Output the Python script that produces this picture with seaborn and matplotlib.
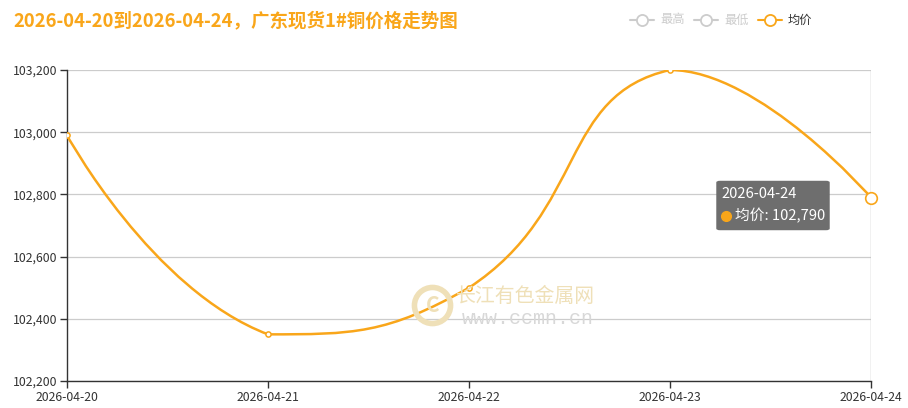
import math
import numpy as np
import pandas as pd
import seaborn as sns
import matplotlib.pyplot as plt
from matplotlib.path import Path
from matplotlib.patches import PathPatch, FancyBboxPatch
from matplotlib.lines import Line2D
from matplotlib.ticker import FuncFormatter

dates = ["2026-04-20", "2026-04-21", "2026-04-22", "2026-04-23", "2026-04-24"]
avg_price = [102990, 102350, 102500, 103200, 102790]
legend_names = ["最高", "最低", "均价"]
title = "2026-04-20到2026-04-24，广东现货1#铜价格走势图"
y_ticks = [102200, 102400, 102600, 102800, 103000, 103200]

ORANGE = "#F9A61A"
W, H = 908, 408

sns.set_theme(style="white")
plt.rcParams["font.family"] = ["Noto Sans CJK SC", "DejaVu Sans"]


def fx(x):
    return x / W


def fy(y):
    return 1 - y / H


def smooth_path(xs, ys, smooth=0.5):
    # bezier smoothing like echarts 4, control points kept inside the points' bbox
    n = len(xs)
    xmin, xmax, ymin, ymax = min(xs), max(xs), min(ys), max(ys)
    cps = [(xs[0], ys[0])]
    for i in range(1, n - 1):
        x, y = xs[i], ys[i]
        vx = (xs[i + 1] - xs[i - 1]) * smooth
        vy = (ys[i + 1] - ys[i - 1]) * smooth
        d0 = math.hypot(x - xs[i - 1], y - ys[i - 1])
        d1 = math.hypot(xs[i + 1] - x, ys[i + 1] - y)
        d0, d1 = d0 / (d0 + d1), d1 / (d0 + d1)
        for k in (-d0, d1):
            cx = min(max(x + vx * k, xmin), xmax)
            cy = min(max(y + vy * k, ymin), ymax)
            cps.append((cx, cy))
    cps.append((xs[-1], ys[-1]))
    verts = [(xs[0], ys[0])]
    codes = [Path.MOVETO]
    for i in range(n - 1):
        verts += [cps[2 * i], cps[2 * i + 1], (xs[i + 1], ys[i + 1])]
        codes += [Path.CURVE4] * 3
    return verts, codes


df = pd.DataFrame({"idx": np.arange(len(dates)), "date": dates, "price": avg_price})

fig = plt.figure(figsize=(W / 100, H / 100), dpi=100)
ax = fig.add_axes([fx(67), fy(381), fx(871) - fx(67), fy(70) - fy(381)])

# pixel scale of the plot area, used for the smoothing
sx = (871 - 67) / (len(dates) - 1)
sy = (381 - 70) / (y_ticks[-1] - y_ticks[0])
xs = [i * sx for i in df["idx"]]
ys = [(p - y_ticks[0]) * sy for p in df["price"]]
verts, codes = smooth_path(xs, ys)
verts = [(vx / sx, vy / sy + y_ticks[0]) for vx, vy in verts]
ax.add_patch(PathPatch(Path(verts, codes), facecolor="none", edgecolor=ORANGE,
                       lw=1.8, zorder=3))

sns.scatterplot(data=df.iloc[:-1], x="idx", y="price", ax=ax, s=14,
                facecolor="white", edgecolor=ORANGE, linewidth=1.1, zorder=4)
sns.scatterplot(data=df.iloc[-1:], x="idx", y="price", ax=ax, s=70,
                facecolor="white", edgecolor=ORANGE, linewidth=1.2, zorder=5,
                clip_on=False)

ax.axvline(len(dates) - 1, color="#bbbbbb", lw=1, zorder=2)

ax.set_xlim(0, len(dates) - 1)
ax.set_ylim(y_ticks[0], y_ticks[-1])
ax.set_xticks(df["idx"])
ax.set_xticklabels(dates)
ax.set_yticks(y_ticks)
ax.yaxis.set_major_formatter(FuncFormatter(lambda v, p: f"{int(v):,}"))
ax.set_xlabel("")
ax.set_ylabel("")
ax.grid(axis="y", color="#cccccc", lw=0.9)
ax.grid(axis="x", visible=False)
for s in ["top", "right"]:
    ax.spines[s].set_visible(False)
for s in ["left", "bottom"]:
    ax.spines[s].set_color("#333333")
    ax.spines[s].set_linewidth(1)
ax.tick_params(axis="both", length=5, width=1, color="#333333",
               labelcolor="#333333", labelsize=8.8, pad=2)
ax.tick_params(axis="x", bottom=True)
ax.tick_params(axis="y", left=True)

# title
fig.text(fx(13), fy(21), title, color=ORANGE, fontsize=13.3, fontweight="bold",
         va="center", ha="left")

# legend
leg_items = [(630, legend_names[0], "#cccccc", "#cccccc"),
             (694, legend_names[1], "#cccccc", "#cccccc"),
             (758, legend_names[2], ORANGE, "#333333")]
for x0, name, c, tc in leg_items:
    fig.add_artist(Line2D([fx(x0), fx(x0 + 24)], [fy(20), fy(20)], color=c, lw=1.5))
    fig.add_artist(Line2D([fx(x0 + 12)], [fy(20)], marker="o", markersize=8,
                          markerfacecolor="white", markeredgecolor=c, markeredgewidth=1.3))
    fig.text(fx(x0 + 30), fy(20), name, color=tc, fontsize=8.8, va="center", ha="left")

# watermark
wm = "#EFE0B8"
fig.add_artist(Line2D([fx(432)], [fy(305)], marker="o", markersize=26,
                      markerfacecolor="none", markeredgecolor=wm,
                      markeredgewidth=4, zorder=1))
fig.text(fx(433), fy(305), "C", color=wm, fontsize=15, fontweight="bold",
         ha="center", va="center", zorder=1)
fig.text(fx(456), fy(296), "长江有色金属网", color=wm, fontsize=14.3, ha="left",
         va="center", zorder=1)
fig.text(fx(462), fy(318), "www.ccmn.cn", color="#d8d8d8", fontsize=14.4,
         family="Liberation Mono", ha="left", va="center", zorder=1)

# tooltip
fig.add_artist(FancyBboxPatch((fx(719), fy(229)), fx(827) - fx(719), fy(182) - fy(229),
                              boxstyle="round,pad=0.003,rounding_size=0.004",
                              transform=fig.transFigure, facecolor="#6e6e6e",
                              edgecolor="none", zorder=10))
fig.text(fx(721), fy(194), dates[-1], color="white", fontsize=10.6, ha="left",
         va="center", zorder=11)
fig.add_artist(Line2D([fx(726)], [fy(216)], marker="o", markersize=7,
                      markerfacecolor=ORANGE, markeredgecolor=ORANGE, zorder=11))
fig.text(fx(735), fy(216), f"均价: {avg_price[-1]:,}", color="white", fontsize=10.6,
         ha="left", va="center", zorder=11)

fig.savefig("out.png", dpi=100)
